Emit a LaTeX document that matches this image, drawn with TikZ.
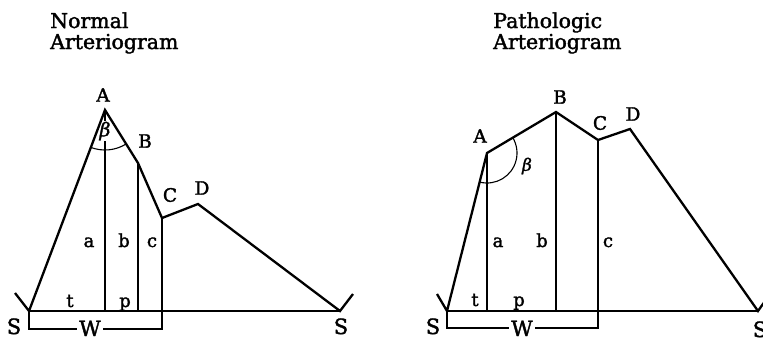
\documentclass[tikz,border=0pt]{standalone}
\usepackage{fontspec}
\setmainfont{DejaVu Serif}
\newfontfamily\labfont[FakeBold=1.8]{DejaVu Serif}
\newfontfamily\grkfont[FakeBold=1.5]{DejaVu Serif Italic}
\begin{document}
\begin{tikzpicture}[x=1pt,y=-1pt,
  curve/.style={line width=2.3pt,line join=miter},
  thin/.style={line width=1.1pt},
  title/.style={inner sep=0pt,anchor=base west,font=\labfont\fontsize{20.5}{22}\selectfont},
  pt/.style={inner sep=0pt,font=\labfont\fontsize{18.5}{20}\selectfont},
  seg/.style={inner sep=0pt,anchor=base,font=\labfont\fontsize{18}{20}\selectfont},
  big/.style={inner sep=0pt,anchor=base,font=\labfont\fontsize{21}{23}\selectfont},
  greek/.style={inner sep=0.5pt,fill=white}]
\useasboundingbox (0,0) rectangle (763,338);
\clip (0,0) rectangle (763,338);
% ---------- Normal ----------
\node[title] (t1) at (50,28) {Normal};
\node[title] (t2) at (50,49) {Arteriogram};
\coordinate (S1) at (29,311);
\coordinate (A1) at (105,110);
\coordinate (B1) at (138,163);
\coordinate (C1) at (162,218);
\coordinate (D1) at (198,204);
\coordinate (S2) at (340,311);
\coordinate (k1) at (15,293);
\coordinate (k2) at (353,294);
\coordinate (a1b) at (105,311);
\coordinate (b1b) at (138,311);
\coordinate (c1b) at (162,329);
\coordinate (w1) at (29,329);
\draw[thin] (S1) -- (S2);
\draw[thin] (A1) -- (a1b);
\draw[thin] (B1) -- (b1b);
\draw[thin] (C1) -- (c1b) -- (w1) -- (S1);
\node[greek,font=\grkfont\fontsize{19}{21}\selectfont] (lbeta1) at (105,131) {β};
\draw[thin] (A1) ++(111:40) arc[start angle=111,end angle=58,radius=40];
\draw[curve] (k1) -- (S1) -- (A1) -- (B1) -- (C1) -- (D1) -- (S2) -- (k2);
\node[pt] (lA1) at (103,95) {A};
\node[pt] (lB1) at (145,141) {B};
\node[pt] (lC1) at (170,195) {C};
\node[pt] (lD1) at (202,188) {D};
\node[seg] (la1) at (89,247) {a};
\node[seg] (lb1) at (124,247) {b};
\node[seg] (lc1) at (152,247) {c};
\node[seg] (lt1) at (70,307) {t};
\node[seg] (lp1) at (125,307) {p};
\node[big,fill=white,inner xsep=2pt] (lW1) at (90,336) {W};
\node[big] (lS1) at (14,334) {S};
\node[big] (lS2) at (341,334) {S};
% ---------- Pathologic ----------
\node[title] (t3) at (493,28) {Pathologic};
\node[title] (t4) at (493,49) {Arteriogram};
\coordinate (S3) at (447,311);
\coordinate (A2) at (487,153);
\coordinate (B2) at (556,112);
\coordinate (C2) at (598,140);
\coordinate (D2) at (630,129);
\coordinate (S4) at (758,311);
\coordinate (k3) at (437,294);
\coordinate (k4) at (770,294);
\coordinate (a2b) at (487,311);
\coordinate (b2b) at (556,311);
\coordinate (c2b) at (598,328);
\coordinate (w2) at (447,328);
\draw[thin] (S3) -- (S4);
\draw[thin] (A2) -- (a2b);
\draw[thin] (B2) -- (b2b);
\draw[thin] (C2) -- (c2b) -- (w2) -- (S3);
\draw[thin] (A2) ++(104:30) arc[start angle=104,end angle=-31,radius=30];
\draw[curve] (k3) -- (S3) -- (A2) -- (B2) -- (C2) -- (D2) -- (S4) -- (k4);
\node[pt] (lA2) at (480,136) {A};
\node[pt] (lB2) at (560,97) {B};
\node[pt] (lC2) at (600,123) {C};
\node[pt] (lD2) at (633,114) {D};
\node[inner sep=0pt,font=\grkfont\fontsize{17}{19}\selectfont] (lbeta2) at (527,166) {β};
\node[seg] (la2) at (498,247) {a};
\node[seg] (lb2) at (542,247) {b};
\node[seg] (lc2) at (608,247) {c};
\node[seg] (lt2) at (475,306) {t};
\node[seg] (lp2) at (519,306) {p};
\node[big,fill=white,inner xsep=2pt] (lW2) at (522,336) {W};
\node[big] (lS3) at (433,334) {S};
\node[big] (lS4) at (760,337) {S};
\end{tikzpicture}
\end{document}
